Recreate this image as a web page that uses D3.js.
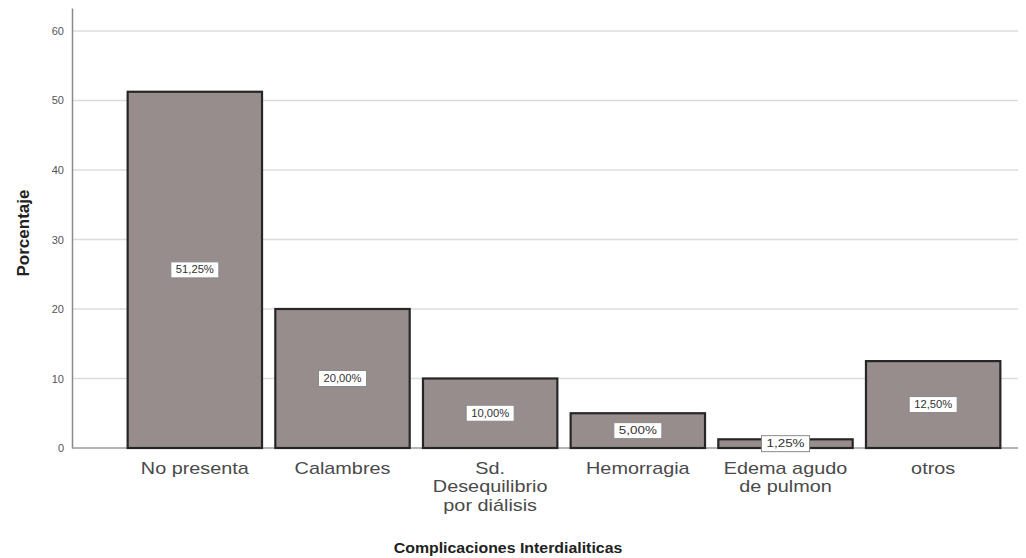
<!DOCTYPE html>
<html>
<head>
<meta charset="utf-8">
<script src="https://cdn.jsdelivr.net/npm/d3@7"></script>
<style>
  html, body { margin: 0; padding: 0; background: #fff; }
  svg { display: block; font-family: "Liberation Sans", Arial, sans-serif; }
</style>
</head>
<body>
<svg id="chart" width="1026" height="558"></svg>
<script>
// Complicaciones interdialíticas: porcentaje de pacientes por categoría
const categories = ["No presenta", "Calambres", "Sd. Desequilibrio por diálisis", "Hemorragia", "Edema agudo de pulmon", "otros"];
const categoryLines = [["No presenta"], ["Calambres"], ["Sd.", "Desequilibrio", "por diálisis"], ["Hemorragia"], ["Edema agudo", "de pulmon"], ["otros"]];
const percentages = [51.25, 20.00, 10.00, 5.00, 1.25, 12.50];
const yTicks = [0, 10, 20, 30, 40, 50, 60];

const svg = d3.select("#chart");
const plotLeft = 72, plotRight = 1018, plotTop = 8, plotBottom = 448;

const x = d3.scaleBand()
  .domain(categories)
  .range([121, 1007])
  .paddingInner(0.09)
  .paddingOuter(0.045);

const y = d3.scaleLinear().domain([0, 63.3]).range([plotBottom, plotTop]);

// horizontal grid lines
svg.append("g")
  .selectAll("line")
  .data(yTicks.filter(d => d > 0))
  .join("line")
  .attr("x1", plotLeft).attr("x2", plotRight)
  .attr("y1", d => y(d)).attr("y2", d => y(d))
  .attr("stroke", "#dcdcdc").attr("stroke-width", 1.5);

// y axis
const yAxis = svg.append("g")
  .attr("transform", `translate(${plotLeft},0)`)
  .call(d3.axisLeft(y).tickValues(yTicks).tickSize(0).tickPadding(8));
yAxis.select(".domain").attr("stroke", "#8a8a8a").attr("stroke-width", 1.5);
yAxis.selectAll("text").attr("font-size", 11).attr("fill", "#555")
  .attr("font-family", "'Liberation Sans', Arial, sans-serif");

// x baseline
svg.append("line")
  .attr("x1", plotLeft).attr("x2", plotRight)
  .attr("y1", plotBottom).attr("y2", plotBottom)
  .attr("stroke", "#9a9a9a").attr("stroke-width", 1.5);

// bars
svg.append("g")
  .selectAll("rect")
  .data(percentages)
  .join("rect")
  .attr("x", (d, i) => x(categories[i]))
  .attr("y", d => y(d))
  .attr("width", x.bandwidth())
  .attr("height", d => plotBottom - y(d))
  .attr("fill", "#978d8d")
  .attr("stroke", "#262626")
  .attr("stroke-width", 2.2);

// value labels in white boxes
const fmt = d => d.toFixed(2).replace(".", ",") + "%";
const labels = svg.append("g")
  .selectAll("g")
  .data(percentages)
  .join("g")
  .attr("transform", (d, i) => `translate(${x(categories[i]) + x.bandwidth() / 2},${(y(d) + plotBottom) / 2})`);
labels.append("rect")
  .attr("x", -24).attr("y", -8)
  .attr("width", 48).attr("height", 16)
  .attr("fill", "#fff")
  .attr("stroke", "#8a8a8a").attr("stroke-width", 1);
labels.append("text")
  .attr("text-anchor", "middle")
  .attr("dy", "0.35em")
  .attr("font-size", 10)
  .attr("fill", "#333")
  .attr("textLength", 38)
  .attr("lengthAdjust", "spacingAndGlyphs")
  .text(fmt);

// category labels (wide lettering)
const catText = svg.append("g")
  .selectAll("text")
  .data(categoryLines)
  .join("text")
  .attr("transform", (d, i) => `translate(${x(categories[i]) + x.bandwidth() / 2},474) scale(1.24,1)`)
  .attr("text-anchor", "middle")
  .attr("font-size", 16)
  .attr("fill", "#4a4a4a");
catText.selectAll("tspan")
  .data(d => d)
  .join("tspan")
  .attr("x", 0)
  .attr("dy", (d, i) => i === 0 ? 0 : 18.5)
  .text(d => d);

// axis titles
svg.append("text")
  .attr("transform", "translate(508,553) scale(1.06,1)")
  .attr("text-anchor", "middle")
  .attr("font-size", 15).attr("font-weight", "bold").attr("fill", "#222")
  .text("Complicaciones Interdialiticas");

svg.append("text")
  .attr("transform", "translate(29,233) rotate(-90)")
  .attr("text-anchor", "middle")
  .attr("font-size", 17).attr("font-weight", "bold").attr("fill", "#222")
  .text("Porcentaje");
</script>
</body>
</html>
